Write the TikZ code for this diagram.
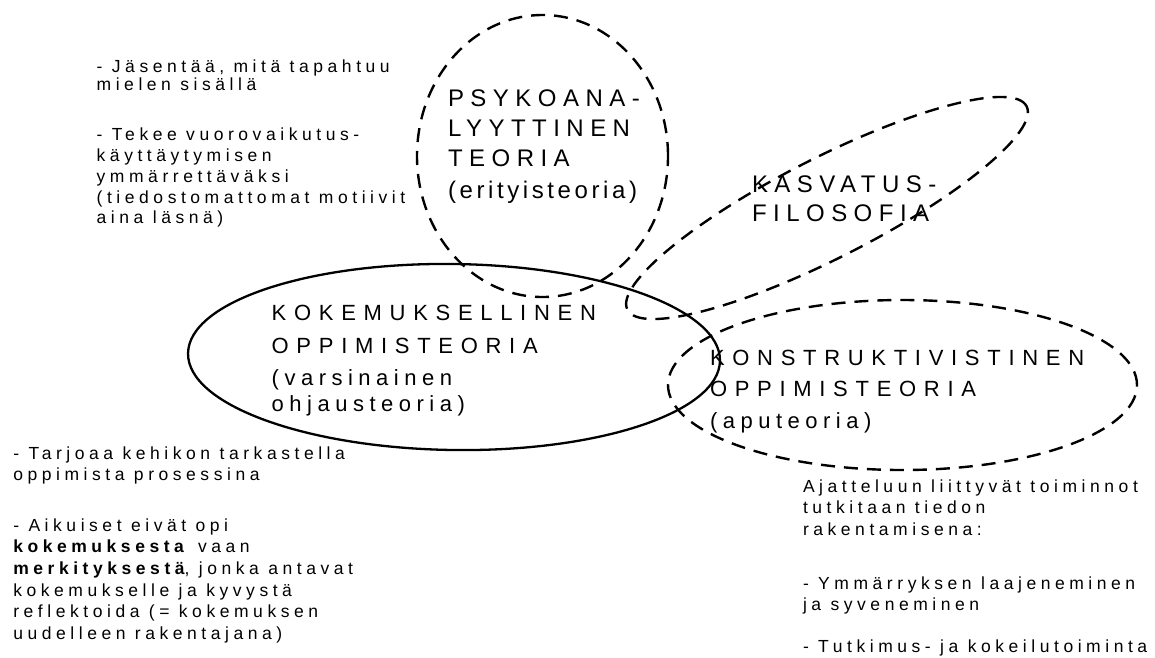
\documentclass[tikz,border=0pt]{standalone}
\usepackage{fontspec}
\setmainfont{Liberation Sans}
\newfontfamily\fsmall[LetterSpace=26]{Liberation Sans}
\newfontfamily\fcapA[LetterSpace=35]{Liberation Sans}
\newfontfamily\flowA[LetterSpace=25]{Liberation Sans}
\newfontfamily\fcapB[LetterSpace=27]{Liberation Sans}
\newfontfamily\flowB[LetterSpace=15]{Liberation Sans}
\begin{document}
\begin{tikzpicture}[x=1pt,y=-1pt,
  lbl/.style={inner sep=0pt, outer sep=0pt, anchor=base west, align=left},
  smalltxt/.style={lbl, font=\fsmall\fontsize{17.5}{21.7}\selectfont},
  bigA/.style={lbl, font=\fcapA\fontsize{22}{31.7}\selectfont},
  bigB/.style={lbl, font=\fcapB\fontsize{24}{30}\selectfont},
  dashedline/.style={draw=black, line width=2.4pt, dash pattern=on 14pt off 9pt},
  solidline/.style={draw=black, line width=2.3pt}
]
\useasboundingbox (0,0) rectangle (1155,657);
\fill[white] (0,0) rectangle (1155,657);

% shapes
\draw[dashedline] (542.5,156) ellipse [x radius=125.5pt, y radius=141pt];
\draw[dashedline, rotate around={27:(827,208)}] (827,208) ellipse [x radius=224pt, y radius=50pt];
\draw[dashedline] (902.5,385) ellipse [x radius=234.5pt, y radius=85pt];
\draw[solidline, rotate around={-0.8:(454,357)}] (454,357) ellipse [x radius=266pt, y radius=93pt];

% labels inside shapes (anchored at the baseline of their last line)
\node[bigB] (psy) at (448,198) {PSYKOANA-\\LYYTTINEN\\TEORIA\\[1.3pt]\flowB (erityisteoria)};
\node[bigB, font=\fcapB\fontsize{24}{29}\selectfont] (kas) at (752,221.7) {KASVATUS-\\FILOSOFIA};
\node[bigA, font=\fcapA\fontsize{22}{33}\selectfont] (kok1) at (271.7,353) {KOKEMUKSELLINEN\\OPPIMISTEORIA};
\node[lbl, font=\flowA\fontsize{22}{26}\selectfont] (kok2) at (271.7,411) {(varsinainen\\ohjausteoria)};
\node[bigA] (kon) at (710,428.4) {KONSTRUKTIVISTINEN\\OPPIMISTEORIA\\\flowA (aputeoria)};

% side texts
\node[smalltxt, font=\fsmall\fontsize{17.5}{18.5}\selectfont] (tla) at (96.7,90.5) {- Jäsentää, mitä tapahtuu\\mielen sisällä};
\node[smalltxt, font=\fsmall\fontsize{17.5}{20.8}\selectfont] (tlb) at (96.7,223.9) {- Tekee vuorovaikutus-\\käyttäytymisen\\ymmärrettäväksi\\(tiedostomattomat motiivit\\aina läsnä)};
\node[smalltxt] (bla) at (13.3,480.7) {- Tarjoaa kehikon tarkastella\\oppimista prosessina};
\node[smalltxt] (blb) at (13.3,639.5) {- Aikuiset eivät opi\\\textbf{kokemuksesta} vaan\\\textbf{merkityksestä}, jonka antavat\\kokemukselle ja kyvystä\\reflektoida (= kokemuksen\\uudelleen rakentajana)};
\node[smalltxt] (bra) at (803,535.4) {Ajatteluun liittyvät toiminnot\\tutkitaan tiedon\\rakentamisena:};
\node[smalltxt] (brb) at (803,610.7) {- Ymmärryksen laajeneminen\\ja syveneminen};
\node[smalltxt] (brc) at (803,652) {- Tutkimus- ja kokeilutoiminta};
\end{tikzpicture}
\end{document}
